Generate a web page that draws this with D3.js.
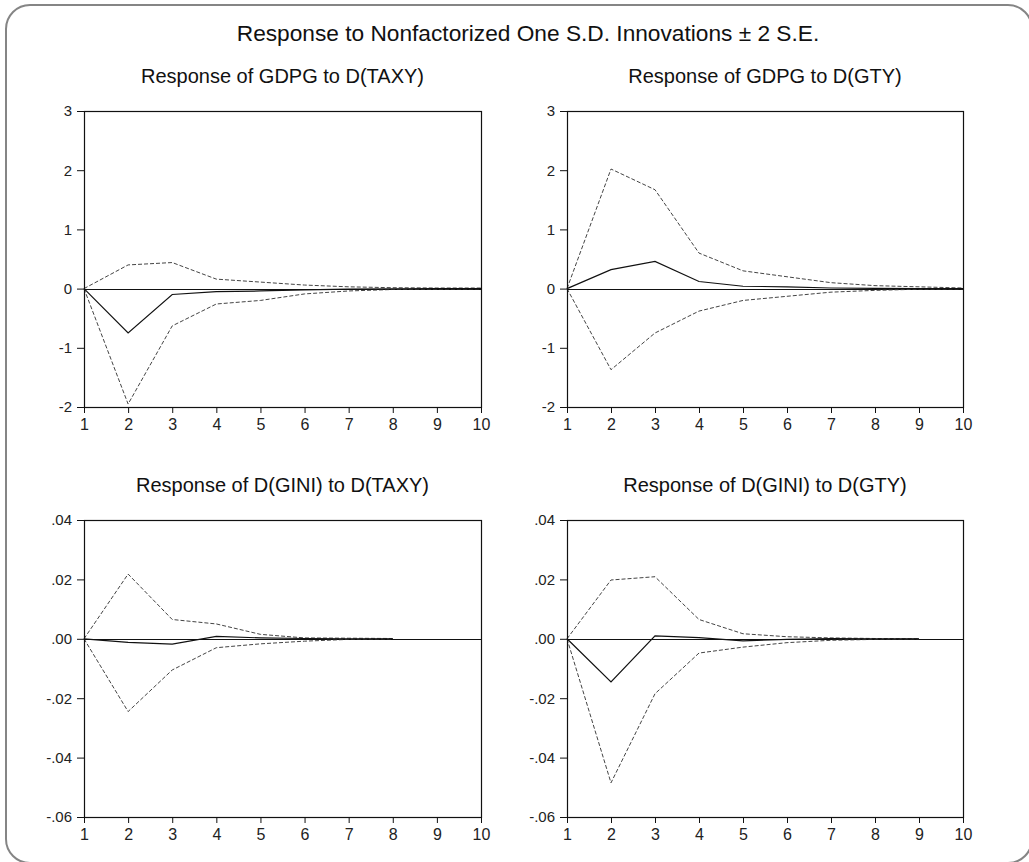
<!DOCTYPE html>
<html>
<head>
<meta charset="utf-8">
<script src="https://cdn.jsdelivr.net/npm/d3@7"></script>
<style>
  body { margin: 0; background: #fff; }
  svg { display: block; font-family: Arial, "Liberation Sans", sans-serif; }
</style>
</head>
<body>
<svg id="chart"></svg>
<script>
var mainTitle = "Response to Nonfactorized One S.D. Innovations \u00b1 2 S.E.";
var periods = [1, 2, 3, 4, 5, 6, 7, 8, 9, 10];

var titles = ["Response of GDPG to D(TAXY)", "Response of GDPG to D(GTY)",
              "Response of D(GINI) to D(TAXY)", "Response of D(GINI) to D(GTY)"];

var gdpgTicks = [-2, -1, 0, 1, 2, 3];
var gdpgTickLabels = ["-2", "-1", "0", "1", "2", "3"];
var giniTicks = [-0.06, -0.04, -0.02, 0, 0.02, 0.04];
var giniTickLabels = ["-.06", "-.04", "-.02", ".00", ".02", ".04"];

// GDPG to D(TAXY)
var gdpgTaxyResp  = [0, -0.75, -0.10, -0.05, -0.04, -0.02, -0.01, -0.005, 0, 0];
var gdpgTaxyUpper = [0, 0.40, 0.44, 0.16, 0.11, 0.06, 0.03, 0.015, 0.01, 0.01];
var gdpgTaxyLower = [0, -1.95, -0.63, -0.26, -0.20, -0.09, -0.04, -0.015, -0.01, -0.005];

// GDPG to D(GTY)
var gdpgGtyResp  = [0, 0.32, 0.46, 0.12, 0.04, 0.03, 0.01, 0.005, 0, 0];
var gdpgGtyUpper = [0, 2.02, 1.67, 0.60, 0.30, 0.20, 0.10, 0.05, 0.03, 0.01];
var gdpgGtyLower = [0, -1.37, -0.75, -0.38, -0.20, -0.13, -0.06, -0.03, -0.01, -0.005];

// D(GINI) to D(TAXY)
var giniTaxyResp  = [0, -0.0012, -0.0018, 0.0008, 0.0003, 0.0001, 0, 0, null, null];
var giniTaxyUpper = [0, 0.0218, 0.0065, 0.0050, 0.0015, 0.0003, 0.0002, 0.0001, null, null];
var giniTaxyLower = [0, -0.0245, -0.0105, -0.0030, -0.0017, -0.0008, -0.0002, -0.0001, null, null];

// D(GINI) to D(GTY)
var giniGtyResp  = [0, -0.0145, 0.0010, 0.0004, -0.0007, -0.0002, 0.0001, 0, 0, null];
var giniGtyUpper = [0, 0.0198, 0.0209, 0.0065, 0.0017, 0.0007, 0.0003, 0.0001, 0.00005, null];
var giniGtyLower = [0, -0.0485, -0.0185, -0.0048, -0.0028, -0.0013, -0.0005, -0.0002, -0.0001, null];

var width = 1029, height = 862;
var svg = d3.select("#chart").attr("width", width).attr("height", height);

// outer rounded frame (runs a little past the right and bottom edges)
svg.append("rect")
   .attr("x", 6).attr("y", 5)
   .attr("width", 1026).attr("height", 858)
   .attr("rx", 24).attr("ry", 24)
   .attr("fill", "none").attr("stroke", "#858585").attr("stroke-width", 2);

svg.append("text")
   .attr("x", 528).attr("y", 41)
   .attr("text-anchor", "middle")
   .attr("font-size", 22.7).attr("fill", "#111")
   .text(mainTitle);

var panels = [
  {title: titles[0], left: 84, right: 481, top: 111, bottom: 407, domain: [-2, 3],
   ticks: gdpgTicks, labels: gdpgTickLabels, resp: gdpgTaxyResp, upper: gdpgTaxyUpper, lower: gdpgTaxyLower, titleY: 83},
  {title: titles[1], left: 567, right: 963, top: 111, bottom: 407, domain: [-2, 3],
   ticks: gdpgTicks, labels: gdpgTickLabels, resp: gdpgGtyResp, upper: gdpgGtyUpper, lower: gdpgGtyLower, titleY: 83},
  {title: titles[2], left: 84, right: 481, top: 520, bottom: 817, domain: [-0.06, 0.04],
   ticks: giniTicks, labels: giniTickLabels, resp: giniTaxyResp, upper: giniTaxyUpper, lower: giniTaxyLower, titleY: 492},
  {title: titles[3], left: 567, right: 963, top: 520, bottom: 817, domain: [-0.06, 0.04],
   ticks: giniTicks, labels: giniTickLabels, resp: giniGtyResp, upper: giniGtyUpper, lower: giniGtyLower, titleY: 492}
];

panels.forEach(drawPanel);

function drawPanel(p) {
    var x = d3.scaleLinear().domain([1, 10]).range([p.left, p.right]);
    var y = d3.scaleLinear().domain(p.domain).range([p.bottom, p.top]);

    svg.append("text")
       .attr("x", (p.left + p.right) / 2).attr("y", p.titleY)
       .attr("text-anchor", "middle")
       .attr("font-size", 20).attr("fill", "#111")
       .text(p.title);

    var yAxis = d3.axisLeft(y).tickValues(p.ticks)
                  .tickFormat(function(d, i) { return p.labels[i]; })
                  .tickSize(7).tickPadding(5);
    var xAxis = d3.axisBottom(x).tickValues(periods)
                  .tickFormat(d3.format("d"))
                  .tickSize(6).tickPadding(6);

    var gy = svg.append("g").attr("transform", "translate(" + p.left + ",0)").call(yAxis);
    var gx = svg.append("g").attr("transform", "translate(0," + p.bottom + ")").call(xAxis);
    gy.select(".domain").remove();
    gx.select(".domain").remove();
    gy.selectAll("text").attr("font-size", 15).attr("fill", "#222").attr("font-family", "Arial, 'Liberation Sans', sans-serif");
    gx.selectAll("text").attr("font-size", 16).attr("fill", "#222").attr("font-family", "Arial, 'Liberation Sans', sans-serif");
    gy.selectAll("line").attr("stroke", "#111");
    gx.selectAll("line").attr("stroke", "#111");

    // zero line
    svg.append("line")
       .attr("x1", p.left).attr("x2", p.right)
       .attr("y1", Math.round(y(0)) + 0.5).attr("y2", Math.round(y(0)) + 0.5)
       .attr("stroke", "#111").attr("stroke-width", 1.2);

    var line = d3.line()
                 .defined(function(d) { return d != null; })
                 .x(function(d, i) { return x(periods[i]); })
                 .y(function(d) { return y(d); });

    [p.upper, p.lower].forEach(function(band) {
        svg.append("path")
           .attr("d", line(band))
           .attr("fill", "none")
           .attr("stroke", "#444")
           .attr("stroke-width", 1)
           .attr("stroke-dasharray", "4,2");
    });

    svg.append("path")
       .attr("d", line(p.resp))
       .attr("fill", "none")
       .attr("stroke", "#111")
       .attr("stroke-width", 1.2);

    // plot frame
    svg.append("rect")
       .attr("x", p.left + 0.5).attr("y", p.top + 0.5)
       .attr("width", p.right - p.left).attr("height", p.bottom - p.top)
       .attr("fill", "none").attr("stroke", "#111").attr("stroke-width", 1.2);
}
</script>
</body>
</html>
